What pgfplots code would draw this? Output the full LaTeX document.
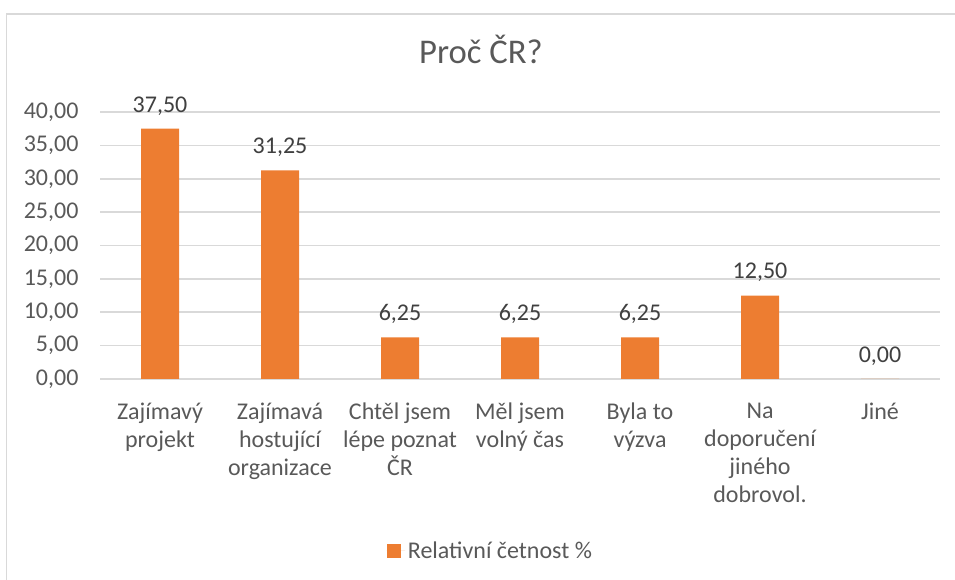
\documentclass[border=0pt]{standalone}
\usepackage{pgfplots}
\pgfplotsset{compat=1.18}
\usepackage{fontspec}
\setmainfont{Carlito}
\definecolor{barc}{HTML}{ED7D31}
\definecolor{txt}{HTML}{595959}
\definecolor{lbl}{HTML}{404040}
\definecolor{grd}{HTML}{D9D9D9}
\begin{document}
\begin{tikzpicture}[x=0.75pt,y=0.75pt]
\useasboundingbox (0,0) rectangle (955,580);
\draw[grd, line width=1.2pt] (6.5,0) -- (6.5,566) -- (955,566);
\begin{axis}[
  at={(100*0.75pt,201*0.75pt)}, anchor=south west,
  scale only axis, width=630pt, height=200.25pt,
  ybar, bar width=28.5pt,
  xmin=-0.5, xmax=6.5, ymin=0, ymax=40,
  ytick={0,5,...,40},
  xtick=data,
  xticklabels={{Zajímavý\\projekt},{Zajímavá\\hostující\\organizace},{Chtěl jsem\\lépe poznat\\ČR},{Měl jsem\\volný čas},{Byla to\\výzva},{Na\\doporučení\\jiného\\dobrovol.},{Jiné}},
  /pgf/number format/assume math mode=true,
  yticklabel={\pgfmathprintnumber[fixed,fixed zerofill,precision=2,use comma]{\tick}},
  ymajorgrids, grid style={grd, line width=1.2pt},
  axis line style={draw=none},
  major tick length=0pt,
  tick label style={font=\fontsize{18}{21}\selectfont, text=txt},
  yticklabel style={anchor=east, inner sep=0pt, xshift=-16pt},
  xticklabel style={align=center, anchor=north, inner sep=0pt, yshift=-18pt},
  nodes near coords={\pgfmathprintnumber[fixed,fixed zerofill,precision=2,use comma]{\pgfplotspointmeta}},
  nodes near coords style={anchor=base, inner sep=0pt, yshift=12.5pt, font=\fontsize{18}{21}\selectfont, text=lbl},
  title={Proč ČR?},
  title style={at={(0.4536,1.15)}, anchor=base, inner sep=0pt, font=\fontsize{26}{30}\selectfont, text=txt},
  legend style={at={(0.465,-0.644)}, anchor=center, draw=none, font=\fontsize{18}{21}\selectfont, text=txt, inner sep=0pt},
  legend image code/.code={\fill[barc] (0pt,-5.25pt) rectangle (10.5pt,5.25pt); \path (0pt,0pt) -- (14pt,0pt);},
]
\addplot[fill=barc, draw=none] coordinates {(0,37.5) (1,31.25) (2,6.25) (3,6.25) (4,6.25) (5,12.5) (6,0)};
\addlegendentry{Relativní četnost \%}
\end{axis}
\end{tikzpicture}
\end{document}
